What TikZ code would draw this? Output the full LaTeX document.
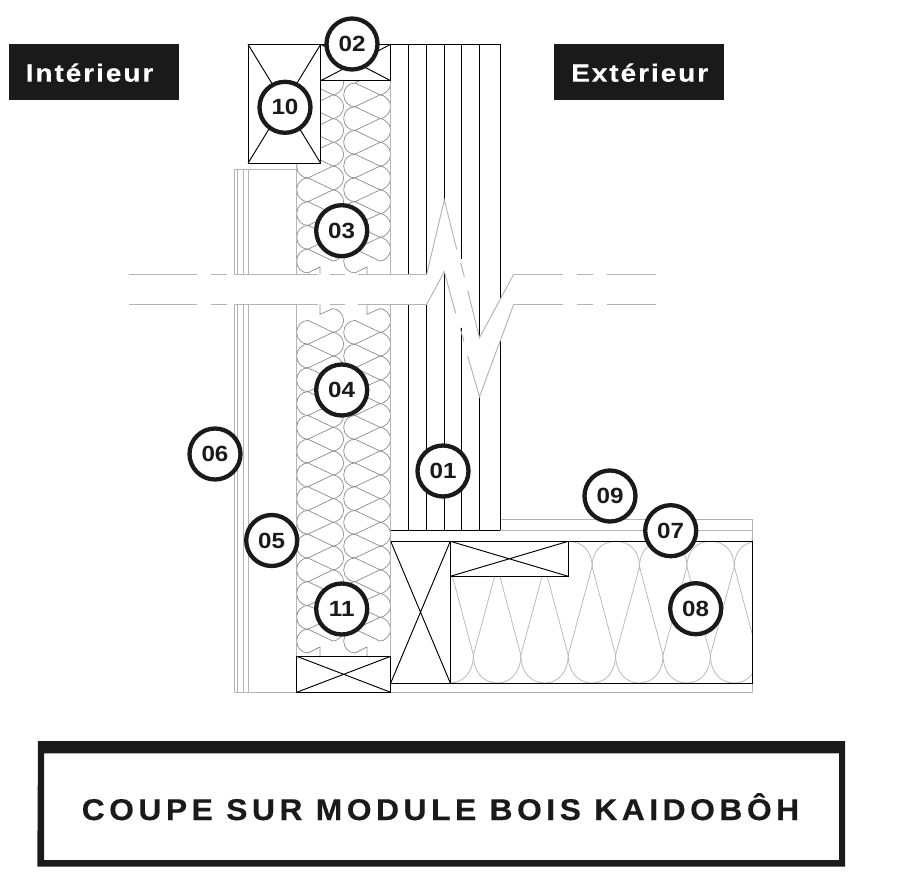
\documentclass[tikz,border=0pt]{standalone}
\usepackage{fontspec}
\setmainfont{Liberation Sans}
\newfontfamily\boxfont[LetterSpace=7.8,FakeStretch=1.12,FakeBold=0.3]{Liberation Sans Bold}
\newfontfamily\titlefont[LetterSpace=15.1,FakeStretch=1.06,FakeBold=0.4]{Liberation Sans Bold}
\newfontfamily\tagfont[FakeStretch=1.1]{Liberation Sans Bold}
\definecolor{ink}{HTML}{1A1A1A}
\definecolor{wallgray}{HTML}{B4B4B4}
\definecolor{woolgray}{HTML}{8C8C8C}
\definecolor{batt}{HTML}{B8B8B8}
\tikzset{
  blk/.style={draw=black,line width=0.95pt},
  gry/.style={draw=wallgray,line width=0.95pt},
  wool/.style={draw=woolgray,line width=0.7pt},
  battline/.style={draw=batt,line width=0.75pt},
  timber/.style={draw=black,fill=white,line width=0.95pt},
  tag/.style={circle,draw=ink,fill=white,line width=4.3pt,minimum size=51pt,inner sep=0pt,
    text=ink,font=\tagfont\fontsize{22}{22}\selectfont},
  sidebox/.style={fill=ink,inner sep=0pt,anchor=north west},
  sidetext/.style={text=white,anchor=base west,inner sep=0pt,font=\boxfont\fontsize{25}{25}\selectfont},
  titletext/.style={text=ink,anchor=base west,inner sep=0pt,font=\titlefont\fontsize{30}{30}\selectfont},
}
\newcommand{\woolleft}[3]{% left neck x, edge x, k
  \pgfmathsetmacro{\ya}{106.7+23.75*#3}\pgfmathsetmacro{\yb}{\ya+23.75}\pgfmathsetmacro{\ym}{\ya+11.875}
  \draw[wool] (#1,\ya) .. controls (#1-6,\ya) and (#2,\ya+5) .. (#2,\ym) .. controls (#2,\yb-5) and (#1-6,\yb) .. (#1,\yb);
}
\newcommand{\woolright}[3]{% right neck x, edge x, k
  \pgfmathsetmacro{\ym}{106.7+23.75*#3}\pgfmathsetmacro{\ya}{\ym-11.875}\pgfmathsetmacro{\yb}{\ym+11.875}
  \draw[wool] (#1,\ya) .. controls (#1+4,\ya) and (#2,\ym-7) .. (#2,\ym) .. controls (#2,\ym+7) and (#1+4,\yb) .. (#1,\yb);
}
\newcommand{\woollines}[3]{% left x, right x, k
  \pgfmathsetmacro{\ym}{106.7+23.75*#3}
  \draw[wool] (#2,\ym-11.875) -- (#1,\ym) -- (#2,\ym+11.875);
}
\begin{document}
\begin{tikzpicture}[x=1pt,y=-1pt]
\useasboundingbox (0,0) rectangle (908,888);
\fill[white] (0,0) rectangle (908,888);

% ---- wool, upper part
\begin{scope}
  \clip (296.7,80.7) rectangle (390.7,276);
  \foreach \off in {0,47}{
    \foreach \k in {-1,...,6}{
      \woolleft{308+\off}{296.7+\off}{\k}
      \woolright{333+\off}{343.7+\off}{\k}
      \woollines{308+\off}{333+\off}{\k}
    }
    \draw[wool] (308+\off,272.95) -- (320+\off,267) -- (320+\off,274.3);
  }
\end{scope}
% ---- wool, lower part
\begin{scope}
  \clip (296.7,304) rectangle (390.7,656.3);
  \foreach \off in {0,47}{
    \foreach \k in {9,...,22}{
      \woolleft{308+\off}{296.7+\off}{\k}
      \woolright{333+\off}{343.7+\off}{\k}
    }
    \foreach \k in {10,...,22}{\woollines{308+\off}{333+\off}{\k}}
    \draw[wool] (308+\off,320.45) -- (333+\off,332.3);
    \draw[wool] (320+\off,304.3) -- (320+\off,314.3) -- (333+\off,308.6);
    \draw[wool] (308+\off,653) -- (320+\off,647) -- (320+\off,656.3);
  }
\end{scope}

% ---- floor insulation
\begin{scope}
  \clip (450.3,541.3) rectangle (752.7,683);
  \foreach \i in {0,...,7}{
    \pgfmathsetmacro{\tx}{449.9+47.4*\i}
    \pgfmathsetmacro{\bl}{\tx-23.9}
    \pgfmathsetmacro{\br}{\tx+23.5}
    \draw[battline] (\bl,655) -- (\tx,566.7) -- (\br,655);
    \draw[battline] (\tx,566.7) .. controls (\tx,551) and (\tx+10,541.3) .. (\tx+23.7,541.3)
       .. controls (\tx+37.4,541.3) and (\tx+47.4,551) .. (\tx+47.4,566.7);
    \draw[battline] (\bl,655) .. controls (\bl,672) and (\bl+10,683) .. (\bl+23.7,683)
       .. controls (\bl+37.4,683) and (\bl+47.4,672) .. (\bl+47.4,655);
  }
\end{scope}

% ---- wall lining (06/05)
\foreach \x in {234.3,237.7,243.3,248.3}{
  \draw[gry] (\x,169.3) -- (\x,274.3);
  \draw[gry] (\x,304.3) -- (\x,692.3);
}
\draw[gry] (234.3,169.3) -- (296.7,169.3);
\draw[gry] (234.3,692.3) -- (296.7,692.3);
\draw[gry] (296.7,80.7) -- (296.7,274.3);
\draw[gry] (296.7,304.3) -- (296.7,656.3);
\draw[gry] (390.7,80.7) -- (390.7,274.3);
\draw[gry] (390.7,304.3) -- (390.7,683);

% ---- floor finish lines
\draw[gry] (500.3,519.3) -- (752.7,519.3) -- (752.7,692.3) -- (390.7,692.3);
\draw[gry] (500.3,530.3) -- (752.7,530.3);

% ---- CLT plies
\draw[blk] (390.7,44) -- (500.3,44);
\draw[blk] (408.7,44) -- (408.7,274.3) (408.7,304.3) -- (408.7,530.3);
\draw[blk] (426.7,44) -- (426.7,274.3) (426.7,304.3) -- (426.7,530.3);
\draw[blk] (444.3,44) -- (444.3,200) (444.3,271.7) -- (444.3,530.3);
\draw[blk] (461.5,44) -- (461.5,259.3) (461.5,327.7) -- (461.5,530.3);
\draw[blk] (479.5,44) -- (479.5,337.7) (479.5,396.7) -- (479.5,530.3);
\draw[blk] (500.3,44) -- (500.3,299.3) (500.3,341) -- (500.3,530.3);
\draw[blk] (390.7,530.3) -- (500.3,530.3);

% ---- timbers
\draw[timber] (248,44.3) rectangle (320.7,163.3);
\draw[blk] (248,44.3) -- (320.7,163.3) (248,163.3) -- (320.7,44.3);
\draw[timber] (320.7,44.3) rectangle (390.7,80.7);
\draw[blk] (320.7,44.3) -- (390.7,80.7) (320.7,80.7) -- (390.7,44.3);
\draw[timber] (296.7,656.3) rectangle (390.7,692.3);
\draw[blk] (296.7,656.3) -- (390.7,692.3) (296.7,692.3) -- (390.7,656.3);
\draw[blk] (390.7,541.3) -- (450.3,683) (390.7,683) -- (450.3,541.3);
\draw[blk] (450.3,541.3) -- (450.3,683);
\draw[blk] (390.7,541.3) -- (752.7,541.3) -- (752.7,683) -- (390.7,683);
\draw[timber] (450.3,541.3) rectangle (568.3,576.3);
\draw[blk] (450.3,541.3) -- (568.3,576.3) (450.3,576.3) -- (568.3,541.3);

% ---- break lines
\foreach \yy in {274.3,304.3}{
  \draw[gry] (129,\yy) -- (196.7,\yy) (211,\yy) -- (226.7,\yy) (234.3,\yy) -- (318,\yy)
             (330,\yy) -- (345,\yy) (358,\yy) -- (426.7,\yy);
  \draw[gry] (513.7,\yy) -- (562.7,\yy) (576.7,\yy) -- (593.3,\yy) (606.7,\yy) -- (656,\yy);
}
\draw[gry] (426.7,274.3) -- (444.3,200) -- (456.7,249.3);
\draw[gry] (460.7,263) -- (464.3,276.7);
\draw[gry] (467.7,290.7) -- (479.5,337.7) -- (513.7,274.3);
\draw[gry] (426.7,304.3) -- (444.3,271.7) -- (455.7,313.3);
\draw[gry] (460,327.7) -- (464,341.7);
\draw[gry] (467.7,356) -- (479.5,396.7) -- (513.7,304.3);

% ---- side labels
\node[sidebox,minimum width=170pt,minimum height=56pt] (intbox) at (9,44) {};
\node[sidetext] (inttext) at (25.5,81.7) {Intérieur};
\node[sidebox,minimum width=170pt,minimum height=56pt] (extbox) at (554,44) {};
\node[sidetext] (exttext) at (571,81.7) {Extérieur};

% ---- numbered tags
\node[tag] (t10) at (285,107.3) {10};
\node[tag] (t02) at (352,44) {02};
\node[tag] (t03) at (341.7,230.7) {03};
\node[tag] (t04) at (341.7,390) {04};
\node[tag] (t05) at (271.7,540.5) {05};
\node[tag] (t11) at (341.7,609) {11};
\node[tag] (t06) at (215,454) {06};
\node[tag] (t01) at (443,471) {01};
\node[tag] (t09) at (610,496) {09};
\node[tag] (t07) at (670.7,530.7) {07};
\node[tag] (t08) at (695.7,608.7) {08};

% ---- title
\fill[ink,even odd rule] (38,741) -- (845,741) -- (845,866.7) -- (37.3,866.7) -- cycle
   (44,753.3) rectangle (839,860);
\node[titletext] (title) at (81.5,820) {COUPE SUR MODULE BOIS KAIDOBÔH};
\end{tikzpicture}
\end{document}
